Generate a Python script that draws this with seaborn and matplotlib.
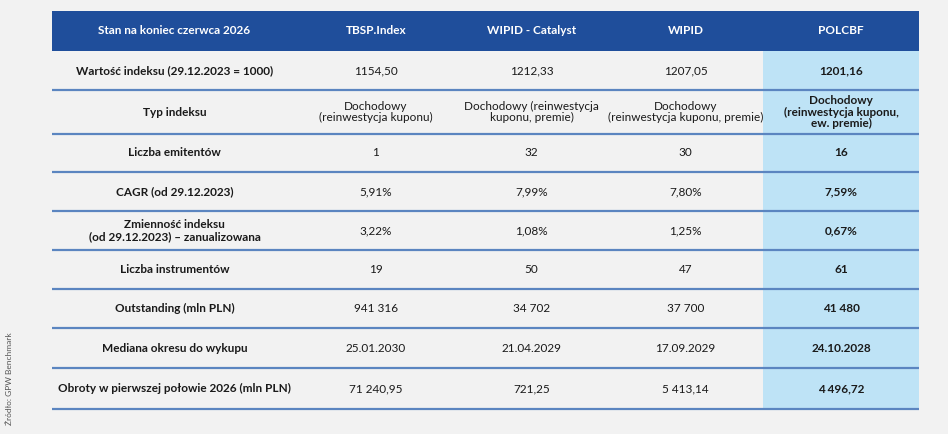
import matplotlib.pyplot as plt
import seaborn as sns

# table content
header = ["Stan na koniec czerwca 2026", "TBSP.Index", "WIPID - Catalyst", "WIPID", "POLCBF"]
row_labels = [
    "Wartość indeksu (29.12.2023 = 1000)",
    "Typ indeksu",
    "Liczba emitentów",
    "CAGR (od 29.12.2023)",
    "Zmienność indeksu\n(od 29.12.2023) – zanualizowana",
    "Liczba instrumentów",
    "Outstanding (mln PLN)",
    "Mediana okresu do wykupu",
    "Obroty w pierwszej połowie 2026 (mln PLN)",
]
tbsp = ["1154,50", "Dochodowy\n(reinwestycja kuponu)", "1", "5,91%", "3,22%",
        "19", "941 316", "25.01.2030", "71 240,95"]
wipid_catalyst = ["1212,33", "Dochodowy (reinwestycja\nkuponu, premie)", "32", "7,99%", "1,08%",
                  "50", "34 702", "21.04.2029", "721,25"]
wipid = ["1207,05", "Dochodowy\n(reinwestycja kuponu, premie)", "30", "7,80%", "1,25%",
         "47", "37 700", "17.09.2029", "5 413,14"]
polcbf = ["1201,16", "Dochodowy\n(reinwestycja kuponu,\new. premie)", "16", "7,59%", "0,67%",
          "61", "41 480", "24.10.2028", "4 496,72"]
source = "Źródło: GPW Benchmark"

# layout (pixel units of the 948x434 picture)
col_edges = [52, 297, 455, 608, 763, 919]
header_top = 11
row_edges = [51, 90, 134, 172, 211, 250, 289, 328, 368, 409]

BG = "#f2f2f2"
HEADER_BLUE = "#1f4e9b"
HIGHLIGHT = "#bee3f6"
LINE_BLUE = "#5b85c0"
TEXT = "#1a1a1a"

sns.set_style("white", {"axes.facecolor": BG, "figure.facecolor": BG})
plt.rcParams["font.family"] = ["Lato", "DejaVu Sans"]

fig = plt.figure(figsize=(9.48, 4.34), dpi=100)
ax = fig.add_axes([0, 0, 1, 1])
ax.set_xlim(0, 948)
ax.set_ylim(434, 0)
ax.axis("off")

# header band
ax.fill_between([col_edges[0], col_edges[-1]], header_top, row_edges[0],
                color=HEADER_BLUE, linewidth=0)
# highlighted last column
ax.fill_between([col_edges[4], col_edges[5]], row_edges[0], row_edges[-1],
                color=HIGHLIGHT, linewidth=0)
# row separators
ax.hlines(row_edges[1:], col_edges[0], col_edges[-1], color=LINE_BLUE, linewidth=1.6)

col_centres = [(a + b) / 2 for a, b in zip(col_edges[:-1], col_edges[1:])]
hy = (header_top + row_edges[0]) / 2
for cx, name in zip(col_centres, header):
    ax.text(cx, hy, name, ha="center", va="center", color="white",
            fontsize=8.5, fontweight="bold")

columns = [row_labels, tbsp, wipid_catalyst, wipid, polcbf]
for i in range(len(row_labels)):
    cy = (row_edges[i] + row_edges[i + 1]) / 2
    for j, col in enumerate(columns):
        bold = j in (0, 4)
        ax.text(col_centres[j], cy, col[i], ha="center", va="center", color=TEXT,
                fontsize=8.5, fontweight="bold" if bold else "normal",
                linespacing=1.05)

ax.text(10, 425, source, rotation=90, ha="center", va="bottom",
        color="#555555", fontsize=6)

fig.savefig("out.png", dpi=100, facecolor=BG)
